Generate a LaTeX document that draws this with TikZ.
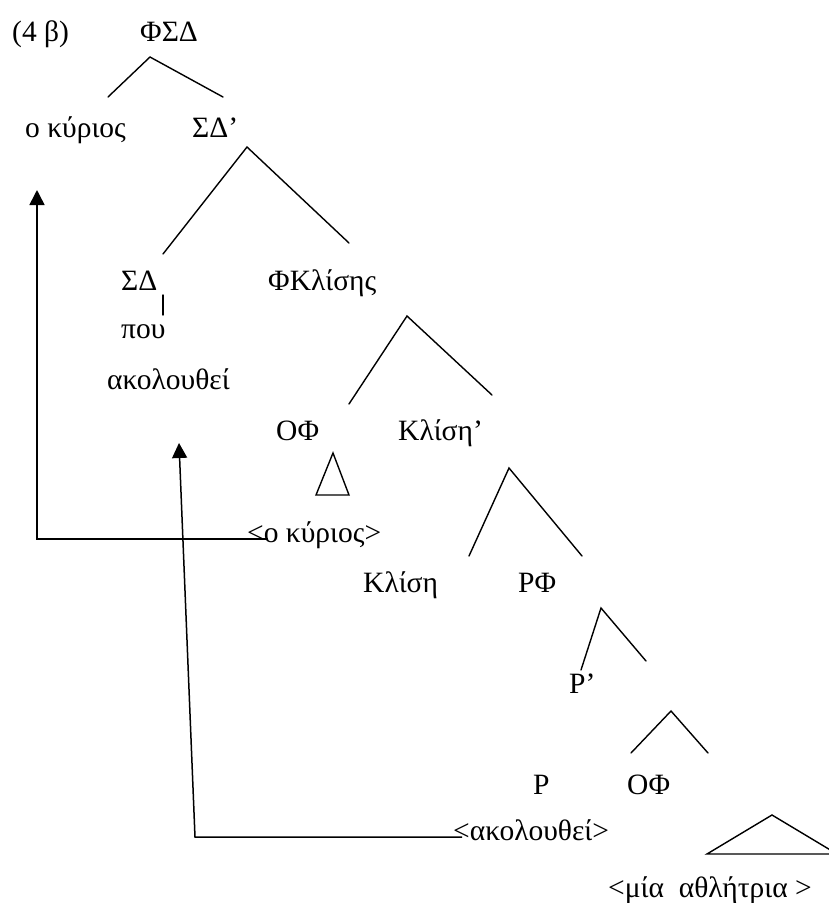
\documentclass[tikz,border=0pt]{standalone}
\usepackage{fontspec}
\setmainfont{Liberation Serif}
\usetikzlibrary{arrows.meta}
\begin{document}
\begin{tikzpicture}[x=1pt,y=-1pt,
  lbl/.style={anchor=base west,inner sep=0pt,font=\fontsize{29.5}{35}\selectfont},
  branch/.style={line width=1.4pt,line cap=round,line join=miter},
  move/.style={line width=1.5pt,-{Triangle[length=15pt,width=15pt]}}]
\useasboundingbox (0,0) rectangle (829,903);
% labels
\node[lbl] (ex) at (12,41) {(4 β)};
\node[lbl] (fsd) at (140,41) {ΦΣΔ};
\node[lbl] (okyr) at (25,137) {ο κύριος};
\node[lbl] (sdbar) at (192,137) {ΣΔ’};
\node[lbl] (sd) at (121,290) {ΣΔ};
\node[lbl] (pou) at (121,338) {που};
\node[lbl] (akol) at (107,389) {ακολουθεί};
\node[lbl] (fkl) at (268,290) {ΦΚλίσης};
\node[lbl] (of1) at (276,440) {ΟΦ};
\node[lbl] (klbar) at (398,440) {Κλίση’};
\node[lbl] (tokyr) at (247,542) {<ο κύριος>};
\node[lbl] (kl) at (363,592) {Κλίση};
\node[lbl] (rf) at (518,592) {ΡΦ};
\node[lbl] (rbar) at (569,693) {Ρ’};
\node[lbl] (r) at (533,794) {Ρ};
\node[lbl] (of2) at (627,794) {ΟΦ};
\node[lbl] (takol) at (453,840) {<ακολουθεί>};
\node[lbl] (mia) at (608,897) {<μία~~αθλήτρια~>};
% branch points
\coordinate (a1) at (150,57);  \coordinate (a1l) at (108,97);  \coordinate (a1r) at (223,97);
\coordinate (a2) at (247,147); \coordinate (a2l) at (163,254); \coordinate (a2r) at (349,243);
\coordinate (v1) at (163,295); \coordinate (v2) at (163,315);
\coordinate (a3) at (407,316); \coordinate (a3l) at (349,404); \coordinate (a3r) at (492,395);
\coordinate (t1) at (333,453); \coordinate (t1l) at (316,495); \coordinate (t1r) at (349,495);
\coordinate (a4) at (509,468); \coordinate (a4l) at (469,556); \coordinate (a4r) at (582,556);
\coordinate (a5) at (601,608); \coordinate (a5l) at (581,670); \coordinate (a5r) at (646,661);
\coordinate (a6) at (671,711); \coordinate (a6l) at (631,753); \coordinate (a6r) at (708,753);
\coordinate (t2) at (772,815); \coordinate (t2l) at (707,854); \coordinate (t2r) at (837,854);
\draw[branch] (a1l) -- (a1) -- (a1r);
\draw[branch] (a2l) -- (a2) -- (a2r);
\draw[branch] (v1) -- (v2);
\draw[branch] (a3l) -- (a3) -- (a3r);
\draw[branch] (t1) -- (t1l) -- (t1r) -- cycle;
\draw[branch] (a4l) -- (a4) -- (a4r);
\draw[branch] (a5l) -- (a5) -- (a5r);
\draw[branch] (a6l) -- (a6) -- (a6r);
\draw[branch] (t2) -- (t2l) -- (t2r) -- cycle;
% movement arrows
\coordinate (m1s) at (268,539); \coordinate (m1c) at (37,539); \coordinate (m1e) at (37,190);
\coordinate (m2s) at (462,837); \coordinate (m2c) at (195,837); \coordinate (m2e) at (179,443);
\draw[move] (m1s) -- (m1c) -- (m1e);
\draw[move] (m2s) -- (m2c) -- (m2e);
\end{tikzpicture}
\end{document}
